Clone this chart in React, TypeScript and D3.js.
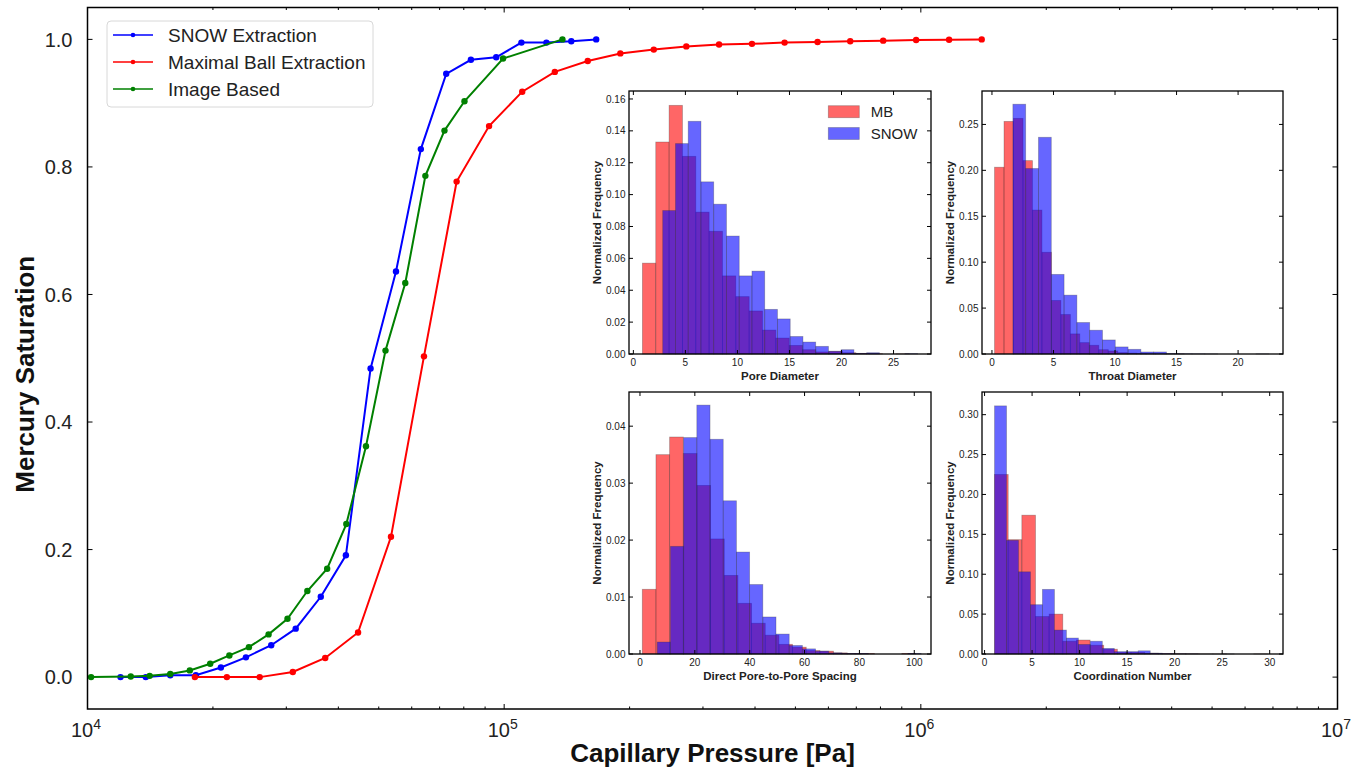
import React, { useRef, useEffect } from 'react'
import * as d3 from 'd3'

const W = 1365
const H = 770
const FONT = '"Liberation Sans", Arial, Helvetica, sans-serif'

// capillary pressure curves: pressure [Pa] and mercury saturation
const snowPressure = [12000, 13800, 15800, 18200, 20900, 24000, 27600, 31600, 36300, 41700, 47800, 55000, 63100, 72600, 83200, 95700, 110000, 126300, 144900, 166300]
const snowSaturation = [0, 0, 0.003, 0.003, 0.015, 0.031, 0.05, 0.076, 0.126, 0.191, 0.484, 0.636, 0.828, 0.946, 0.968, 0.972, 0.995, 0.995, 0.997, 1.0]

const mbPressure = [18100, 21600, 25900, 31100, 37200, 44600, 53500, 64200, 76900, 92000, 110500, 132300, 158700, 190000, 228600, 273600, 327900, 393300, 471000, 565200, 676900, 812200, 974300, 1169000, 1400000]
const mbSaturation = [0, 0, 0, 0.008, 0.03, 0.07, 0.22, 0.503, 0.777, 0.864, 0.918, 0.949, 0.966, 0.978, 0.984, 0.989, 0.992, 0.993, 0.995, 0.996, 0.997, 0.998, 0.999, 0.9995, 1.0]

const imagePressure = [10200, 12700, 14100, 15800, 17600, 19700, 21900, 24400, 27200, 30200, 33700, 37600, 41800, 46600, 51900, 57900, 64700, 71900, 80300, 99400, 138000]
const imageSaturation = [0, 0.001, 0.002, 0.005, 0.0105, 0.021, 0.034, 0.047, 0.067, 0.0915, 0.135, 0.17, 0.24, 0.362, 0.512, 0.618, 0.786, 0.857, 0.903, 0.97, 1.0]

const seriesNames = ['SNOW Extraction', 'Maximal Ball Extraction', 'Image Based']
const yTicks = [0, 0.2, 0.4, 0.6, 0.8, 1.0]
const xDecades = [4, 5, 6, 7]

// histograms (20 bins each): first bin edge, bin width, normalized heights
const poreMBStart = 0.87, poreMBWidth = 1.282
const poreMB = [0.057, 0.133, 0.156, 0.124, 0.089, 0.077, 0.049, 0.036, 0.027, 0.015, 0.01, 0.0054, 0.0027, 0.0013, 0.0017, 0.0008, 0.0004, 0.0002, 0, 0.0001]
const poreSNOWStart = 2.82, poreSNOWWidth = 1.225
const poreSNOW = [0.09, 0.132, 0.146, 0.108, 0.094, 0.074, 0.049, 0.052, 0.028, 0.022, 0.011, 0.0075, 0.0048, 0.0017, 0.0027, 0.0004, 0.0008, 0, 0, 0.0002]

const throatMBStart = 0.21, throatMBWidth = 0.77
const throatMB = [0.2034, 0.2533, 0.2566, 0.2106, 0.1567, 0.1108, 0.0583, 0.043, 0.0219, 0.0124, 0.0095, 0.0047, 0.0033, 0.0015, 0.001, 0.0005, 0.0003, 0.0002, 0.0001, 0.0001]
const throatSNOWStart = 1.7, throatSNOWWidth = 1.04
const throatSNOW = [0.272, 0.202, 0.236, 0.0867, 0.0641, 0.0343, 0.0259, 0.0153, 0.0077, 0.0051, 0.0022, 0.0022, 0.0005, 0.0003, 0.0002, 0.0001, 0, 0, 0, 0.0001]

const spacingMBStart = 0.85, spacingMBWidth = 4.98
const spacingMB = [0.01136, 0.035, 0.0381, 0.0352, 0.0296, 0.0202, 0.0138, 0.0089, 0.0054, 0.0033, 0.0017, 0.0012, 0.0006, 0.0005, 0.0002, 0.0001, 0.0001, 0, 0, 0.0001]
const spacingSNOWStart = 6.3, spacingSNOWWidth = 4.81
const spacingSNOW = [0.0021, 0.0189, 0.038, 0.0437, 0.0377, 0.0269, 0.0179, 0.0122, 0.0065, 0.0035, 0.0015, 0.0009, 0.0005, 0.0002, 0.0001, 0.0001, 0, 0, 0, 0.0001]

const coordMBStart = 1.05, coordMBWidth = 1.436
const coordMB = [0.225, 0.1433, 0.174, 0.047, 0.05, 0.016, 0.0175, 0.011, 0.006, 0.002, 0.002, 0.001, 0.0005, 0.0003, 0.0002, 0.0001, 0.0001, 0, 0, 0.0001]
const coordSNOWStart = 1.05, coordSNOWWidth = 1.26
const coordSNOW = [0.311, 0.1425, 0.103, 0.0618, 0.081, 0.03, 0.02, 0.012, 0.016, 0.007, 0.003, 0.003, 0.004, 0.001, 0.0005, 0.0003, 0.0002, 0, 0, 0.0001]

const insets = [
  {
    title: 'Pore Diameter', box: [629, 91, 931, 354], xDomain: [-0.42, 28.6], yMax: 0.165,
    xTicks: [0, 5, 10, 15, 20, 25], yTicks: d3.range(0, 0.161, 0.02),
    mb: [poreMBStart, poreMBWidth, poreMB], snow: [poreSNOWStart, poreSNOWWidth, poreSNOW], legend: true,
  },
  {
    title: 'Throat Diameter', box: [982, 91, 1283, 354], xDomain: [-0.81, 23.65], yMax: 0.2864,
    xTicks: [0, 5, 10, 15, 20], yTicks: d3.range(0, 0.251, 0.05),
    mb: [throatMBStart, throatMBWidth, throatMB], snow: [throatSNOWStart, throatSNOWWidth, throatSNOW],
  },
  {
    title: 'Direct Pore-to-Pore Spacing', box: [629, 392, 931, 654], xDomain: [-4.0, 106.1], yMax: 0.046,
    xTicks: [0, 20, 40, 60, 80, 100], yTicks: d3.range(0, 0.0401, 0.01),
    mb: [spacingMBStart, spacingMBWidth, spacingMB], snow: [spacingSNOWStart, spacingSNOWWidth, spacingSNOW],
  },
  {
    title: 'Coordination Number', box: [982, 392, 1283, 654], xDomain: [-0.27, 31.4], yMax: 0.3284,
    xTicks: [0, 5, 10, 15, 20, 25, 30], yTicks: d3.range(0, 0.301, 0.05),
    mb: [coordMBStart, coordMBWidth, coordMB], snow: [coordSNOWStart, coordSNOWWidth, coordSNOW],
  },
]

const LINE_COLORS = ['#0000ff', '#ff0000', '#008000']
const BAR_COLORS = { mb: '#ff0000', snow: '#0000ff' }

function drawInset(root: any, p: any) {
  const [x0, y0, x1, y1] = p.box
  const x = d3.scaleLinear().domain(p.xDomain).range([x0, x1])
  const y = d3.scaleLinear().domain([0, p.yMax]).range([y1, y0])
  const g = root.append('g')

  g.append('rect').attr('x', x0).attr('y', y0).attr('width', x1 - x0).attr('height', y1 - y0).attr('fill', '#fff')

  const bars = (spec: any, color: string) => {
    const [start, width, heights] = spec
    heights.forEach((h: number, i: number) => {
      if (h <= 0) return
      const a = x(start + i * width)
      const b = x(start + (i + 1) * width)
      g.append('rect')
        .attr('x', a).attr('y', y(h))
        .attr('width', b - a).attr('height', y(0) - y(h))
        .attr('fill', color).attr('fill-opacity', 0.6)
        .attr('stroke', '#333').attr('stroke-opacity', 0.35).attr('stroke-width', 0.8)
    })
  }
  bars(p.mb, BAR_COLORS.mb)
  bars(p.snow, BAR_COLORS.snow)

  g.append('rect').attr('x', x0).attr('y', y0).attr('width', x1 - x0).attr('height', y1 - y0)
    .attr('fill', 'none').attr('stroke', '#000').attr('stroke-width', 1.3)

  const tk = 4
  p.xTicks.forEach((t: number) => {
    g.append('line').attr('x1', x(t)).attr('x2', x(t)).attr('y1', y1).attr('y2', y1 - tk).attr('stroke', '#000')
    g.append('line').attr('x1', x(t)).attr('x2', x(t)).attr('y1', y0).attr('y2', y0 + tk).attr('stroke', '#000')
    g.append('text').attr('x', x(t)).attr('y', y1 + 11.5).attr('text-anchor', 'middle')
      .attr('font-size', 10).attr('fill', '#222').text(t)
  })
  p.yTicks.forEach((t: number) => {
    g.append('line').attr('x1', x0).attr('x2', x0 + tk).attr('y1', y(t)).attr('y2', y(t)).attr('stroke', '#000')
    g.append('line').attr('x1', x1).attr('x2', x1 - tk).attr('y1', y(t)).attr('y2', y(t)).attr('stroke', '#000')
    g.append('text').attr('x', x0 - 3.5).attr('y', y(t) + 3.6).attr('text-anchor', 'end')
      .attr('font-size', 10).attr('fill', '#222').text(d3.format('.2f')(t))
  })

  g.append('text').attr('x', (x0 + x1) / 2).attr('y', y1 + 25.5).attr('text-anchor', 'middle')
    .attr('font-size', 11.5).attr('font-weight', 'bold').attr('fill', '#222').text(p.title)
  g.append('text')
    .attr('transform', `translate(${x0 - 28},${(y0 + y1) / 2}) rotate(-90)`)
    .attr('text-anchor', 'middle').attr('font-size', 11.5).attr('font-weight', 'bold').attr('fill', '#222')
    .text('Normalized Frequency')

  if (p.legend) {
    const items = [['MB', BAR_COLORS.mb], ['SNOW', BAR_COLORS.snow]]
    items.forEach(([label, color], i) => {
      const cy = y0 + 20.7 + i * 21.8
      g.append('rect').attr('x', x1 - 102.7).attr('y', cy - 6).attr('width', 31).attr('height', 12)
        .attr('fill', color).attr('fill-opacity', 0.6)
        .attr('stroke', '#333').attr('stroke-opacity', 0.35).attr('stroke-width', 0.8)
      g.append('text').attr('x', x1 - 60.3).attr('y', cy + 5.3)
        .attr('font-size', 15).attr('fill', '#222').text(label)
    })
  }
}

export default function App() {
  const svgRef = useRef<SVGSVGElement>(null)

  useEffect(() => {
    if (!svgRef.current) return
    const svg = d3.select(svgRef.current)
    svg.selectAll('*').remove()
    svg.attr('font-family', FONT)

    const left = 87.5, right = 1337.5, top = 7.5, bottom = 709
    const x = d3.scaleLog().domain([1e4, 1e7]).range([left, right])
    const y = d3.scaleLinear().domain([-0.05, 1.05]).range([bottom, top])

    svg.append('rect').attr('width', W).attr('height', H).attr('fill', '#fff')

    // minor ticks on the log axis
    const minor: number[] = []
    xDecades.slice(0, -1).forEach((e) => d3.range(2, 10).forEach((m) => minor.push(m * 10 ** e)))
    minor.forEach((v) => {
      svg.append('line').attr('x1', x(v)).attr('x2', x(v)).attr('y1', top).attr('y2', top + 2.5).attr('stroke', '#000')
      svg.append('line').attr('x1', x(v)).attr('x2', x(v)).attr('y1', bottom).attr('y2', bottom - 2.5).attr('stroke', '#000')
    })

    xDecades.forEach((e) => {
      const v = 10 ** e
      svg.append('line').attr('x1', x(v)).attr('x2', x(v)).attr('y1', bottom).attr('y2', bottom - 5).attr('stroke', '#000')
      svg.append('line').attr('x1', x(v)).attr('x2', x(v)).attr('y1', top).attr('y2', top + 5).attr('stroke', '#000')
      const t = svg.append('text').attr('x', x(v) - 1.5).attr('y', 737).attr('text-anchor', 'middle')
        .attr('font-size', 20).attr('fill', '#222')
      t.append('tspan').text('10')
      t.append('tspan').attr('dy', -8).attr('font-size', 14).text(String(e))
    })

    yTicks.forEach((v) => {
      svg.append('line').attr('x1', left).attr('x2', left + 5).attr('y1', y(v)).attr('y2', y(v)).attr('stroke', '#000')
      svg.append('line').attr('x1', right).attr('x2', right - 5).attr('y1', y(v)).attr('y2', y(v)).attr('stroke', '#000')
      svg.append('text').attr('x', left - 15).attr('y', y(v) + 7.2).attr('text-anchor', 'end')
        .attr('font-size', 20).attr('fill', '#222').text(v.toFixed(1))
    })

    const series = [
      [snowPressure, snowSaturation],
      [mbPressure, mbSaturation],
      [imagePressure, imageSaturation],
    ]
    const line = d3.line<[number, number]>().x((d) => x(d[0])).y((d) => y(d[1]))
    series.forEach(([px, sy], i) => {
      const pts = px.map((p, j) => [p, sy[j]] as [number, number])
      svg.append('path').datum(pts).attr('d', line)
        .attr('fill', 'none').attr('stroke', LINE_COLORS[i]).attr('stroke-width', 2)
      pts.forEach((d) => {
        svg.append('circle').attr('cx', x(d[0])).attr('cy', y(d[1])).attr('r', 3.2).attr('fill', LINE_COLORS[i])
      })
    })

    svg.append('rect').attr('x', left).attr('y', top).attr('width', right - left).attr('height', bottom - top)
      .attr('fill', 'none').attr('stroke', '#000').attr('stroke-width', 1.5)

    // legend
    const lg = svg.append('g')
    lg.append('rect').attr('x', 107).attr('y', 21).attr('width', 266).attr('height', 86).attr('rx', 4)
      .attr('fill', '#fff').attr('fill-opacity', 0.9).attr('stroke', '#d8d8d8')
    seriesNames.forEach((name, i) => {
      const cy = 35 + i * 27
      lg.append('line').attr('x1', 113).attr('x2', 153).attr('y1', cy).attr('y2', cy)
        .attr('stroke', LINE_COLORS[i]).attr('stroke-width', 1.3)
      lg.append('circle').attr('cx', 133).attr('cy', cy).attr('r', 2.3).attr('fill', LINE_COLORS[i])
      lg.append('text').attr('x', 168).attr('y', cy + 6.8).attr('font-size', 19).attr('fill', '#222').text(name)
    })

    svg.append('text').attr('x', (left + right) / 2).attr('y', 762).attr('text-anchor', 'middle')
      .attr('font-size', 26).attr('font-weight', 'bold').attr('fill', '#111').text('Capillary Pressure [Pa]')
    svg.append('text').attr('transform', `translate(34,${(top + bottom) / 2 + 16}) rotate(-90)`)
      .attr('text-anchor', 'middle').attr('font-size', 26).attr('font-weight', 'bold').attr('fill', '#111')
      .text('Mercury Saturation')

    insets.forEach((p) => drawInset(svg, p))
  }, [])

  return (
    <svg
      ref={svgRef}
      width={W}
      height={H}
      style={{ position: 'absolute', left: 0, top: 0, display: 'block' }}
    />
  )
}
